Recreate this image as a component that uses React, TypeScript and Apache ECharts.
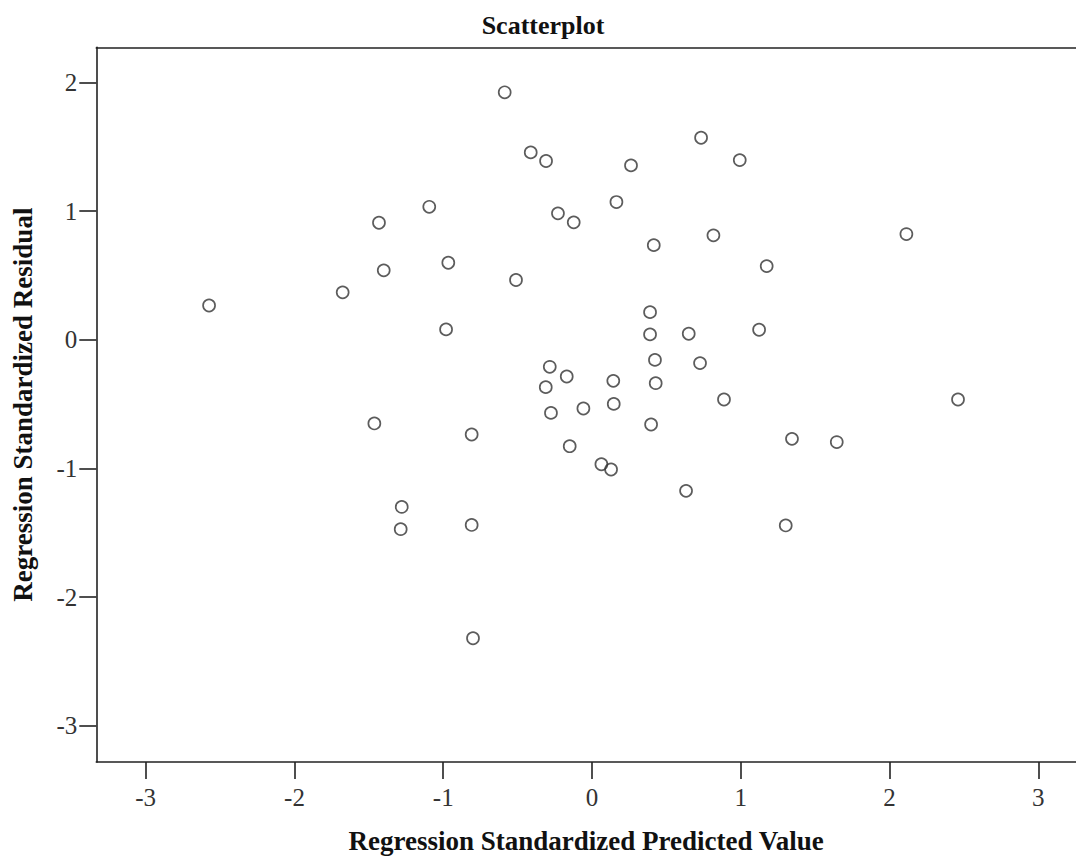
import React, { useEffect, useRef } from "react";
import * as echarts from "echarts";

// Regression Standardized Predicted Value (x) and Regression Standardized Residual (y)
const predicted = [
  -2.574, -1.676, -1.432, -1.4, -1.094, -0.966, -0.981, -0.587, -0.511, -0.412,
  -0.309, 0.262, 0.733, 0.993, 0.164, -0.229, -0.123, 0.816, 0.415, 1.174,
  2.113, 0.39, 0.39, 0.65, 1.123, 0.423, 0.726, -0.284, -0.17, -0.311,
  0.143, 0.428, -0.276, -0.058, 0.146, 0.887, 0.397, 2.46, 1.344, 1.645,
  0.632, 1.302, -1.463, -0.809, -0.15, 0.063, 0.128, -1.279, -1.286, -0.809,
  -0.8,
];
const residual = [
  0.267, 0.369, 0.91, 0.54, 1.034, 0.599, 0.081, 1.924, 0.465, 1.457,
  1.39, 1.356, 1.571, 1.397, 1.071, 0.983, 0.913, 0.812, 0.736, 0.573,
  0.822, 0.215, 0.042, 0.047, 0.078, -0.156, -0.181, -0.21, -0.285, -0.368,
  -0.319, -0.337, -0.568, -0.534, -0.498, -0.464, -0.658, -0.464, -0.77, -0.795,
  -1.174, -1.443, -0.65, -0.736, -0.827, -0.967, -1.008, -1.299, -1.472, -1.439,
  -2.32,
];
const xTicks = [-3, -2, -1, 0, 1, 2, 3];
const yTicks = [-3, -2, -1, 0, 1, 2];

const chartTitle = "Scatterplot";
const xTitle = "Regression Standardized Predicted Value";
const yTitle = "Regression Standardized Residual";

const FONT = "'Liberation Serif', 'Times New Roman', serif";

export default function App() {
  const ref = useRef<HTMLDivElement>(null);

  useEffect(() => {
    if (!ref.current) return;
    const chart = echarts.init(ref.current, null, { renderer: "svg" });
    const points = predicted.map((x, i) => [x, residual[i]]);
    const axisLineStyle = { color: "#222", width: 1.6 };

    chart.setOption({
      animation: false,
      backgroundColor: "#ffffff",
      graphic: [
        {
          type: "text",
          x: 543,
          y: 25,
          style: {
            text: chartTitle,
            font: `bold 26px ${FONT}`,
            fill: "#111",
            textAlign: "center",
            textVerticalAlign: "middle",
          },
        },
      ],
      grid: { left: 96.3, right: 0, top: 47.3, bottom: 97, containLabel: false },
      xAxis: [
        {
          type: "value",
          min: -3.332,
          max: 3.253,
          position: "bottom",
          name: xTitle,
          nameLocation: "middle",
          nameGap: 65,
          nameTextStyle: { fontFamily: FONT, fontWeight: "bold", fontSize: 27, color: "#111" },
          axisLine: { show: true, onZero: false, lineStyle: axisLineStyle },
          axisTick: { show: true, length: 17, inside: false, customValues: xTicks, lineStyle: axisLineStyle },
          axisLabel: {
            show: true,
            customValues: xTicks,
            margin: 23,
            fontFamily: FONT,
            fontSize: 25,
            color: "#333",
            showMinLabel: true,
            showMaxLabel: true,
            formatter: (v: number) => String(v),
          },
          splitLine: { show: false },
        },
        {
          type: "value",
          min: -3.332,
          max: 3.253,
          position: "top",
          axisLine: { show: true, onZero: false, lineStyle: axisLineStyle },
          axisTick: { show: false },
          axisLabel: { show: false },
          splitLine: { show: false },
        },
      ],
      yAxis: {
        type: "value",
        min: -3.282,
        max: 2.274,
        name: yTitle,
        nameLocation: "middle",
        nameGap: 60,
        nameRotate: 90,
        nameTextStyle: { fontFamily: FONT, fontWeight: "bold", fontSize: 27, color: "#111" },
        axisLine: { show: true, onZero: false, lineStyle: axisLineStyle },
        axisTick: { show: true, length: 17, inside: false, customValues: yTicks, lineStyle: axisLineStyle },
        axisLabel: {
          show: true,
          customValues: yTicks,
          margin: 19,
          fontFamily: FONT,
          fontSize: 25,
          color: "#333",
          formatter: (v: number) => String(v),
        },
        splitLine: { show: false },
      },
      series: [
        {
          type: "scatter",
          xAxisIndex: 0,
          yAxisIndex: 0,
          data: points,
          symbol: "circle",
          symbolSize: 12,
          itemStyle: { color: "rgba(255,255,255,0)", borderColor: "#333", borderWidth: 1.7 },
          emphasis: { disabled: true },
        },
      ],
    });

    return () => chart.dispose();
  }, []);

  return (
    <div
      ref={ref}
      style={{ position: "absolute", left: 0, top: 0, width: 1076, height: 859, background: "#fff" }}
    />
  );
}
